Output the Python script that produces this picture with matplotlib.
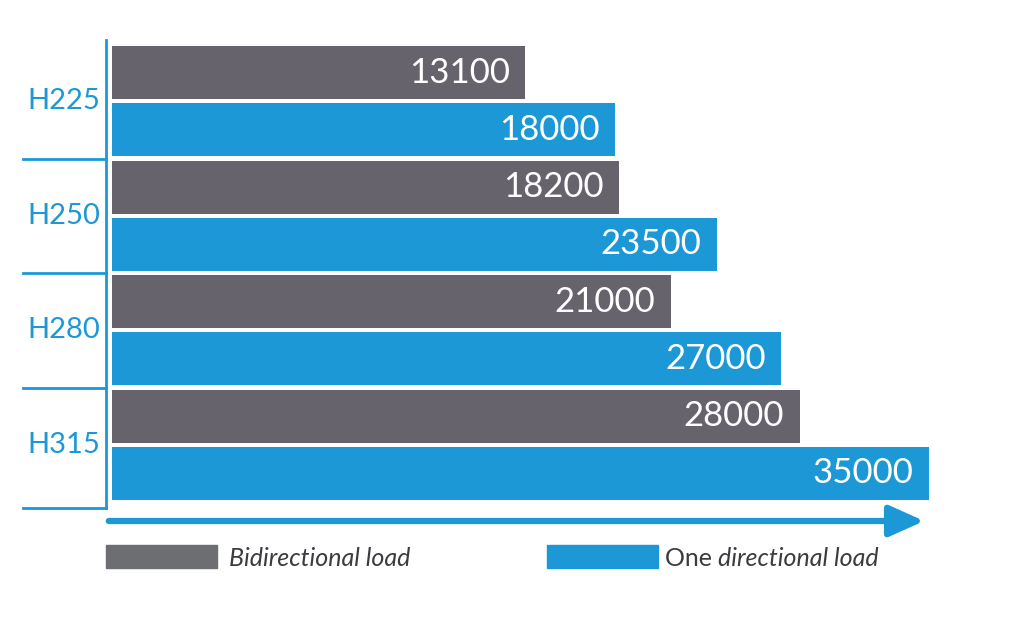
import matplotlib
matplotlib.use('Agg')
import matplotlib.pyplot as plt
from matplotlib.patches import Rectangle
import numpy as np

models = ['H225', 'H250', 'H280', 'H315']
bidirectional = [13100, 18200, 21000, 28000]
one_directional = [18000, 23500, 27000, 35000]
legend_labels = ['Bidirectional load', 'One directional load']

gray = '#67636d'
blue = '#1b98d5'
legend_gray = '#6d6e71'
text_dark = '#3c3b40'

W, H = 1024, 626
fig = plt.figure(figsize=(W / 100, H / 100), dpi=100)

def px(x0, y0, x1, y1):
    # pixel box (top-left origin) -> figure fraction rect
    return [x0 / W, 1 - y1 / H, (x1 - x0) / W, (y1 - y0) / H]

ax = fig.add_axes(px(112, 44, 960, 502))
base = -9300      # bars are drawn from this baseline, like the reference

vals = []
cols = []
for b, o in zip(bidirectional, one_directional):
    vals += [b, o]
    cols += [gray, blue]
vals = np.array(vals)
ypos = np.arange(len(vals))

ax.barh(ypos, vals - base, left=base, height=0.93, color=cols)
ax.set_xlim(base, 36700)
ax.set_ylim(len(vals) - 0.5, -0.5)
ax.axis('off')

fam = ['Lato', 'DejaVu Sans']
for y, v in zip(ypos, vals):
    ax.annotate(str(v), xy=(v, y), xytext=(-11, 0), textcoords='offset points',
                ha='right', va='center', color='white', fontsize=25,
                family=fam)

# left axis: vertical line, separators and group labels
axw = 848.0
tr = ax.get_yaxis_transform()
ax.plot([(106 - 112) / axw] * 2, [-0.57, 7.6], color=blue, lw=2,
        transform=tr, clip_on=False)
for yb in [1.5, 3.5, 5.5, 7.6]:
    ax.plot([(23 - 112) / axw, (106 - 112) / axw], [yb, yb], color=blue, lw=2,
            transform=tr, clip_on=False)
for i, m in enumerate(models):
    ax.text((64 - 112) / axw, 2 * i + 0.5, m, transform=tr, ha='center',
            va='center', color=blue, fontsize=21, family=fam)

# arrow under the bars
fig.add_artist(matplotlib.patches.FancyArrowPatch(
    (106 / W, 1 - 521 / H), (927 / W, 1 - 521 / H), transform=fig.transFigure,
    arrowstyle='-|>,head_length=0.85,head_width=0.38', mutation_scale=25,
    color=blue, lw=4.5))

# legend
fig.add_artist(Rectangle((106 / W, 1 - 568 / H), 111 / W, 23 / H,
                         transform=fig.transFigure, color=legend_gray))
fig.add_artist(Rectangle((547 / W, 1 - 568 / H), 111 / W, 23 / H,
                         transform=fig.transFigure, color=blue))
fig.text(229 / W, 1 - 559 / H, legend_labels[0], ha='left', va='center',
         fontsize=18, style='italic', color=text_dark, family=fam)
t1 = fig.text(665 / W, 1 - 559 / H, 'One ', ha='left', va='center',
              fontsize=18, color=text_dark, family=fam)
fig.canvas.draw()
bb = t1.get_window_extent()
fig.text(bb.x1 / W, 1 - 559 / H, legend_labels[1][4:], ha='left', va='center',
         fontsize=18, style='italic', color=text_dark, family=fam)

fig.savefig('out.png', dpi=100, facecolor='white')
